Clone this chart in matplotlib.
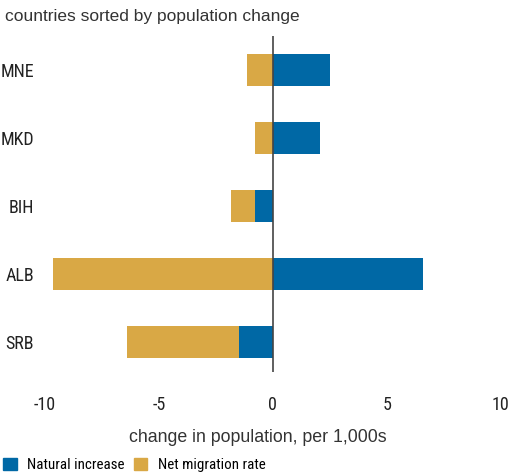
import numpy as np
import matplotlib
matplotlib.use("Agg")
import matplotlib.pyplot as plt
from matplotlib.patches import Patch
from matplotlib import font_manager

countries = ["MNE", "MKD", "BIH", "ALB", "SRB"]
natural_increase = [2.5, 2.05, -0.8, 6.6, -1.5]
net_migration = [-1.15, -0.8, -1.05, -9.65, -4.9]

blue = "#0068a5"
gold = "#d9a845"

# pick a condensed face if one is around
names = {f.name for f in font_manager.fontManager.ttflist}
narrow_name = None
for cand in ["Liberation Sans Narrow", "Roboto Condensed", "Open Sans Condensed",
             "Noto Sans Condensed", "DejaVu Sans Condensed"]:
    if cand in names:
        narrow_name = cand
        break
if narrow_name is None:
    narrow = dict(family="DejaVu Sans", stretch="condensed")
else:
    narrow = dict(family=narrow_name)

fig = plt.figure(figsize=(5.10, 4.75), dpi=100)
ax = fig.add_axes([0.088, 0.217, 0.894, 0.707])

y = np.arange(len(countries))
nat = np.array(natural_increase)
mig = np.array(net_migration)
# migration stacks on top of natural increase when both are negative
mig_left = np.where((nat < 0) & (mig < 0), nat, 0)

ax.barh(y, nat, height=0.46, color=blue, zorder=2)
ax.barh(y, mig, left=mig_left, height=0.46, color=gold, zorder=2)
ax.axvline(0, color="#444444", linewidth=1.2, zorder=3)

ax.set_xlim(-10, 10)
ax.set_ylim(len(countries) - 0.56, -0.5)
ax.set_xticks([-10, -5, 0, 5, 10])
ax.set_xticklabels(["-10", "-5", "0", "5", "10"], fontsize=13, **narrow)
ax.set_yticks(y)
ax.set_yticklabels(countries, fontsize=13, **narrow)
ax.tick_params(length=0, pad=8, colors="#222222")
ax.tick_params(axis="x", pad=17)
for s in ax.spines.values():
    s.set_visible(False)

fig.text(0.01, 0.965, "countries sorted by population change",
         fontsize=12.5, family="Liberation Sans", color="#333333", va="center")
fig.text(0.506, 0.08, "change in population, per 1,000s",
         fontsize=12.8, family="Liberation Sans", color="#333333", ha="center", va="center")

handles = [Patch(color=blue, label="Natural increase"),
           Patch(color=gold, label="Net migration rate")]
fig.legend(handles=handles, loc="lower left", bbox_to_anchor=(-0.02, -0.022), ncol=2,
           frameon=False, handlelength=0.9, handleheight=0.9, handletextpad=0.7,
           columnspacing=0.6, prop=dict(size=10.8, **narrow))

fig.savefig("out.png", dpi=100)
